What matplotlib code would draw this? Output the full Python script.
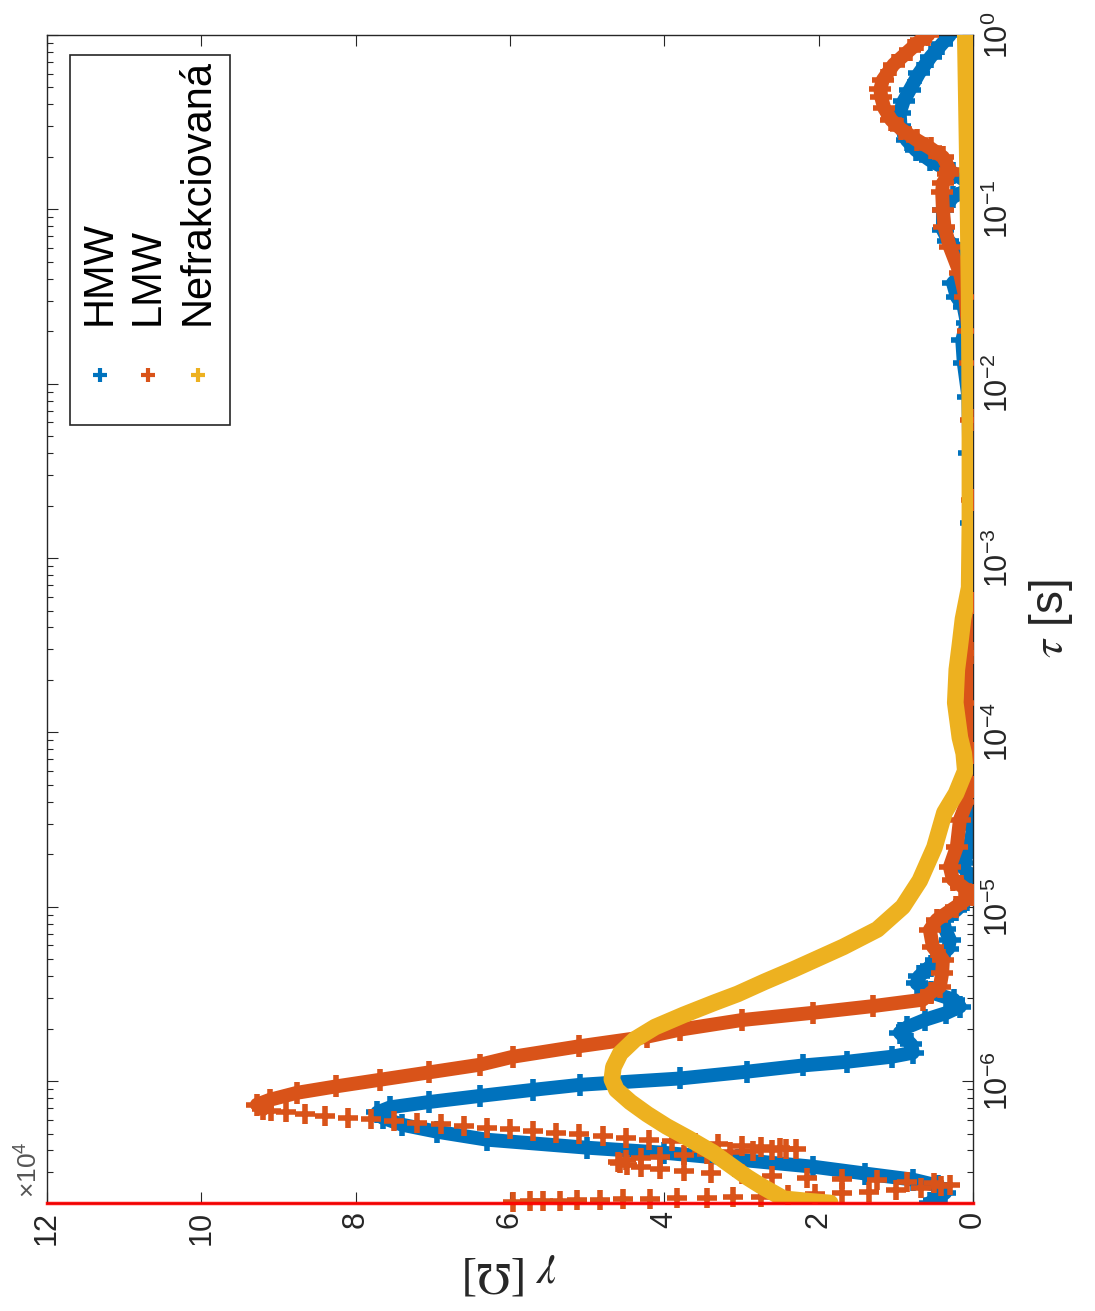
import numpy as np
import matplotlib
matplotlib.use('Agg')
import matplotlib.pyplot as plt
from matplotlib.patches import Rectangle
from matplotlib.ticker import FixedLocator, NullFormatter

plt.rcParams['font.family'] = ['Liberation Sans', 'DejaVu Sans']
plt.rcParams['mathtext.fontset'] = 'stix'

# gamma in units of 1e4 Ohm, tau given as log10(tau / s)
hmw_logtau = [-6.699, -6.680, -6.640, -6.600, -6.565, -6.530, -6.491, -6.450, -6.411, -6.382,
              -6.336, -6.290, -6.250, -6.210, -6.180, -6.150, -6.120, -6.085, -6.050, -6.021,
              -5.985, -5.946, -5.910, -5.889, -5.860, -5.837, -5.790, -5.722, -5.690, -5.648,
              -5.610, -5.573, -5.533, -5.490, -5.440, -5.400, -5.340, -5.304, -5.240, -5.189,
              -5.130, -5.075, -5.020, -4.960, -4.900, -4.845, -4.790, -4.748, -4.680, -4.550,
              -4.300, -4.000, -3.600, -3.200, -2.800, -2.400, -2.076, -1.880, -1.750, -1.650,
              -1.560, -1.502, -1.422, -1.360, -1.307, -1.250, -1.180, -1.118, -1.003, -0.929,
              -0.890, -0.872, -0.830, -0.791, -0.717, -0.660, -0.602, -0.520, -0.447, -0.380,
              -0.315, -0.220, -0.126, -0.050, 0.000]
hmw_gamma = [0.56, 0.50, 0.36, 0.45, 0.78, 1.40, 2.07, 3.05, 4.00, 5.00,
             6.30, 6.95, 7.40, 7.65, 7.72, 7.55, 7.05, 6.39, 5.70, 5.09,
             3.80, 2.93, 2.20, 1.63, 1.05, 0.78, 0.80, 0.95, 0.85, 0.62,
             0.35, 0.17, 0.25, 0.55, 0.73, 0.70, 0.55, 0.48, 0.32, 0.30,
             0.36, 0.39, 0.22, 0.08, 0.02, 0.00, 0.10, 0.13, 0.05, 0.00,
             0.02, 0.01, 0.02, 0.01, 0.03, 0.05, 0.06, 0.12, 0.14, 0.08,
             0.12, 0.21, 0.26, 0.12, 0.08, 0.15, 0.32, 0.39, 0.39, 0.26,
             0.08, 0.00, 0.12, 0.26, 0.56, 0.74, 0.86, 0.94, 0.95, 0.90,
             0.82, 0.70, 0.55, 0.40, 0.30]

# LMW: ringing near the short-time edge (isolated markers)
lmw_ring_logtau = [-6.692, -6.690, -6.688, -6.686, -6.684, -6.682, -6.679, -6.676, -6.673, -6.670,
                   -6.666, -6.662, -6.656, -6.650, -6.642, -6.634, -6.625, -6.615, -6.604, -6.595,
                   -6.586, -6.578, -6.570, -6.562, -6.553, -6.544, -6.535, -6.525, -6.514, -6.503,
                   -6.492, -6.481, -6.470, -6.462, -6.452, -6.443, -6.434, -6.425, -6.417, -6.409,
                   -6.402, -6.396, -6.391, -6.388, -6.383, -6.376, -6.370, -6.362, -6.355, -6.345,
                   -6.335, -6.326, -6.316, -6.306, -6.297, -6.287, -6.277, -6.268, -6.258, -6.248,
                   -6.239, -6.229, -6.219, -6.210, -6.200, -6.190, -6.180, -6.170]
lmw_ring_gamma = [5.96, 5.74, 5.57, 5.35, 5.13, 4.83, 4.54, 4.19, 3.84, 3.45,
                  3.11, 2.75, 2.40, 2.05, 1.70, 1.35, 1.00, 0.68, 0.42, 0.30,
                  0.50, 0.85, 1.25, 1.70, 2.15, 2.60, 3.00, 3.40, 3.75, 4.05,
                  4.30, 4.48, 4.58, 4.60, 4.50, 4.30, 4.05, 3.75, 3.45, 3.15,
                  2.85, 2.60, 2.42, 2.30, 2.50, 2.75, 3.00, 3.30, 3.60, 3.90,
                  4.20, 4.50, 4.80, 5.10, 5.40, 5.70, 6.00, 6.30, 6.60, 6.90,
                  7.20, 7.50, 7.80, 8.10, 8.40, 8.65, 8.90, 9.10]

lmw_logtau = [-6.160, -6.135, -6.107, -6.067, -6.030, -5.992, -5.950, -5.906, -5.860, -5.800,
              -5.745, -5.705, -5.650, -5.608, -5.570, -5.533, -5.493, -5.459, -5.380, -5.304,
              -5.229, -5.132, -5.075, -5.000, -4.931, -4.880, -4.845, -4.771, -4.656, -4.501,
              -4.400, -4.312, -4.117, -3.830, -3.544, -3.257, -2.666, -2.208, -1.881, -1.700,
              -1.502, -1.365, -1.216, -1.100, -1.003, -0.900, -0.849, -0.800, -0.774, -0.700,
              -0.650, -0.602, -0.540, -0.487, -0.420, -0.356, -0.310, -0.258, -0.170, -0.086,
              -0.030, 0.000]
lmw_gamma = [9.20, 9.28, 9.11, 8.76, 8.25, 7.68, 7.05, 6.39, 5.96, 5.10,
             4.22, 3.80, 3.00, 2.07, 1.30, 0.65, 0.55, 0.43, 0.40, 0.39,
             0.52, 0.56, 0.47, 0.22, 0.00, 0.15, 0.26, 0.30, 0.21, 0.17,
             0.08, 0.00, 0.00, 0.04, 0.02, 0.00, 0.01, 0.02, 0.04, 0.06,
             0.10, 0.17, 0.30, 0.37, 0.39, 0.40, 0.39, 0.32, 0.30, 0.39,
             0.55, 0.73, 0.93, 1.06, 1.15, 1.19, 1.20, 1.17, 1.03, 0.82,
             0.68, 0.58]

nef_logtau = [-6.699, -6.690, -6.675, -6.640, -6.600, -6.550, -6.480, -6.410, -6.330, -6.260,
              -6.190, -6.120, -6.050, -5.990, -5.920, -5.840, -5.760, -5.690, -5.620, -5.550,
              -5.500, -5.430, -5.360, -5.290, -5.230, -5.130, -5.000, -4.850, -4.660, -4.460,
              -4.350, -4.220, -4.120, -4.030, -3.830, -3.640, -3.500, -3.350, -3.170, -2.800,
              -2.200, -1.500, -0.800, 0.000]
nef_gamma = [1.85, 2.10, 2.45, 2.59, 2.75, 2.93, 3.15, 3.37, 3.68, 3.97,
             4.22, 4.44, 4.62, 4.68, 4.66, 4.57, 4.38, 4.12, 3.75, 3.35,
             3.05, 2.70, 2.33, 1.98, 1.68, 1.24, 0.91, 0.69, 0.50, 0.37,
             0.22, 0.10, 0.12, 0.17, 0.23, 0.21, 0.17, 0.13, 0.05, 0.04,
             0.04, 0.05, 0.07, 0.10]

labels = ['HMW', 'LMW', 'Nefrakciovaná']
colors = ['#0072BD', '#D95319', '#EDB120']
gamma_ticks = [0, 2, 4, 6, 8, 10, 12]
tau_decades = [-6, -5, -4, -3, -2, -1, 0]
tau_min, tau_max = 2e-7, 1.0

fig = plt.figure(figsize=(10.95, 13.11), dpi=100)
ax = fig.add_axes([0.0429, 0.0824, 0.8457, 0.8909])

# the whole MATLAB figure is turned by 90 degrees: gamma runs right-to-left, tau bottom-to-top
ax.plot(hmw_gamma, 10**np.array(hmw_logtau), '-+', color=colors[0], lw=10, ms=16, mew=4,
        solid_joinstyle='round', solid_capstyle='round', zorder=2)
ax.plot(lmw_ring_gamma, 10**np.array(lmw_ring_logtau), '+', color=colors[1], ms=15, mew=4,
        clip_on=False, zorder=3)
ax.plot(lmw_gamma, 10**np.array(lmw_logtau), '-+', color=colors[1], lw=10, ms=16, mew=4,
        solid_joinstyle='round', solid_capstyle='round', zorder=3)
ax.plot(nef_gamma, 10**np.array(nef_logtau), '-', color=colors[2], lw=12,
        solid_joinstyle='round', solid_capstyle='round', zorder=4)

ax.axhline(tau_min, color='red', lw=2.5, alpha=0.9, zorder=6, clip_on=False)

ax.set_xlim(12, 0)
ax.set_yscale('log')
ax.set_ylim(tau_min, tau_max)

ax.set_xticks(gamma_ticks)
ax.set_xticklabels([str(g) for g in gamma_ticks])
minor = [m * 10.0**d for d in range(-7, 0) for m in range(2, 10) if tau_min <= m * 10.0**d < tau_max]
ax.yaxis.set_major_locator(FixedLocator([10.0**d for d in tau_decades]))
ax.yaxis.set_minor_locator(FixedLocator(minor))
ax.yaxis.set_minor_formatter(NullFormatter())
ax.yaxis.tick_right()

ax.tick_params(which='both', direction='in', top=True, bottom=True, left=True, right=True,
               color='#262626', width=0.8, labelcolor='#262626')
ax.tick_params(which='major', length=8)
ax.tick_params(which='minor', length=4.5)
ax.tick_params(axis='x', labelsize=22, labelrotation=90, pad=6)
ax.tick_params(axis='y', labelsize=22, labelrotation=90, pad=8)
for t in ax.get_yticklabels():
    t.set_verticalalignment('center')

for s in ax.spines.values():
    s.set_color('#262626')
    s.set_linewidth(1.0)

ax.set_xlabel(r'$\gamma$ [$\Omega$]', rotation=180, fontsize=33, family='Liberation Serif',
              labelpad=4, color='#262626')
ax.yaxis.set_label_position('right')
ax.set_ylabel(r'$\tau$ [s]', rotation=90, fontsize=33, labelpad=8, color='#262626')

ax.text(-0.019, 0.004, r'$\mathdefault{\times10^{4}}$', transform=ax.transAxes, rotation=90,
        ha='center', va='bottom', fontsize=19, color='#555555')

# legend drawn by hand so that its text can be turned with the rest of the figure
ax.add_patch(Rectangle((0.0248, 0.666), 0.1728, 0.317, transform=ax.transAxes,
                       facecolor='white', edgecolor='#262626', lw=1.2, zorder=8))
leg_x = [0.0572, 0.109, 0.163]
for lx, lab, c in zip(leg_x, labels, colors):
    ax.plot([lx], [0.709], '+', color=c, ms=10, mew=3, transform=ax.transAxes, zorder=9)
    ax.text(lx, 0.7517, lab, transform=ax.transAxes, rotation=90, ha='center', va='bottom',
            fontsize=30, color='black', zorder=9)

fig.savefig('out.png', dpi=100)
